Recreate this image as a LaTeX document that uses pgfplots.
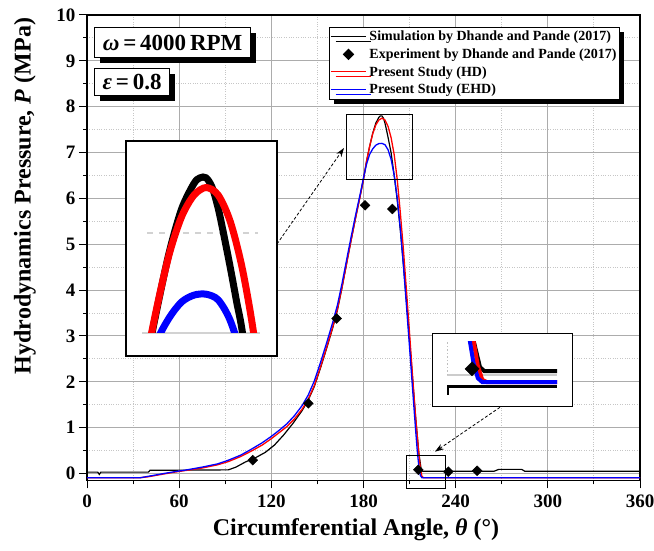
\documentclass[border=0pt]{standalone}
\usepackage{pgfplots}
\pgfplotsset{compat=1.18}
\usepackage{fontspec}
\setmainfont{Liberation Serif}
\usetikzlibrary{shadows,arrows.meta}
\tikzset{myshadow/.style={drop shadow={shadow xshift=5pt, shadow yshift=-5pt, fill=black, opacity=1}}}
\pgfplotsset{
  mylegline/.style={legend image code/.code={\draw[##1] (0pt,0pt) -- (35pt,0pt);}},
  mylegmark/.style={legend image code/.code={\draw[##1] plot[mark=square*, mark options={rotate=45}, mark size=3.5pt] coordinates {(17.5pt,0pt)};}},
}

\pgfplotstableread{
t p
0 0.03
7 0.03
8 -0.02
9 0.03
40 0.03
41 0.07
92 0.08
97 0.14
103 0.25
110 0.35
116 0.46
122 0.62
128 0.84
134 1.09
140 1.37
144 1.60
148 1.90
152 2.30
156 2.73
160 3.18
163 3.56
166 4.05
169 4.58
172 5.10
175 5.60
178 6.08
180 6.42
182 6.81
184 7.13
186 7.42
188 7.64
190 7.77
191 7.80
192 7.80
193 7.75
194 7.64
195 7.49
196 7.33
197 7.16
198 6.99
200 6.50
202 5.95
204 5.30
206 4.55
208 3.75
210 2.90
212 2.05
214 1.20
216 0.45
217.5 0.10
218.5 0.05
265 0.05
268 0.09
283 0.09
285 0.05
360 0.05
}\simdata

\pgfplotstableread{
t p
107.9 0.29
144.1 1.53
162.5 3.38
181.0 5.85
198.8 5.77
215.7 0.08
235.2 0.04
254.0 0.06
}\expdata

\pgfplotstableread{
t p
0 -0.09
35 -0.09
40 -0.07
45 -0.04
50 -0.01
57 0.03
65 0.07
75 0.12
85 0.19
92 0.26
100 0.37
107 0.49
114 0.62
120 0.76
125 0.89
130 1.02
135 1.19
140 1.40
144 1.62
148 1.92
152 2.32
156 2.75
160 3.20
163 3.58
166 4.06
169 4.58
172 5.10
175 5.60
178 6.08
180 6.42
182 6.82
184 7.14
186 7.41
188 7.60
190 7.71
192 7.75
194 7.71
196 7.57
198 7.32
200 6.95
202 6.40
204 5.68
206 4.88
208 3.98
210 3.05
212 2.10
214 1.20
216 0.45
217 0.12
218 -0.06
219 -0.09
360 -0.09
}\hddata

\pgfplotstableread{
t p
0 -0.09
35 -0.09
40 -0.06
45 -0.03
50 0.00
57 0.04
65 0.08
75 0.14
85 0.21
92 0.29
100 0.40
107 0.53
114 0.67
120 0.81
125 0.94
130 1.08
135 1.26
140 1.48
144 1.71
148 2.02
152 2.42
156 2.85
160 3.30
163 3.67
166 4.14
169 4.66
172 5.17
175 5.66
178 6.12
180 6.45
182 6.75
184 6.96
186 7.08
188 7.16
190 7.195
192 7.20
194 7.17
196 7.06
198 6.85
200 6.50
202 6.00
204 5.33
206 4.53
208 3.64
210 2.74
212 1.82
214 0.92
215 0.50
216 0.16
217 -0.04
218 -0.09
360 -0.09
}\ehddata

\begin{document}
\begin{tikzpicture}[x=1pt,y=1pt]
\useasboundingbox (0pt,0pt) rectangle (654pt,550pt);
\begin{axis}[
  at={(87pt,69.6pt)}, anchor=south west, scale only axis,
  width=553pt, height=465.4pt,
  xmin=0, xmax=360, ymin=-0.15, ymax=10,
  xtick={0,60,...,360}, minor xtick={30,90,...,330},
  ytick={0,1,...,10}, minor ytick={0.5,1.5,...,9.5},
  grid=both,
  major grid style={gray!65, line width=1pt},
  minor grid style={gray!45, dotted, line width=1pt},
  tick pos=left, tick align=outside,
  major tick length=8pt, minor tick length=4pt,
  tick style={black, line width=1pt},
  axis line style={line width=1.3pt},
  /pgf/number format/assume math mode=true,
  ticklabel style={font=\fontsize{19}{19}\selectfont\bfseries},
  xticklabel style={yshift=-3pt},
  legend style={at={(rel axis cs:0.4376,0.975)}, anchor=north west,
    draw, line width=1pt, fill=white,
    font=\fontsize{14}{16}\selectfont\bfseries,
    inner xsep=1pt, inner ysep=2pt, row sep=2.4pt,
    cells={anchor=west}, myshadow,
    /tikz/every odd column/.append style={column sep=1pt}},
]
\addlegendimage{black, line width=1pt, mylegline}
\addlegendentry{Simulation by Dhande and Pande (2017)}
\addlegendimage{black, fill=black, mylegmark}
\addlegendentry{Experiment by Dhande and Pande (2017)}
\addlegendimage{red, line width=1pt, mylegline}
\addlegendentry{Present Study (HD)}
\addlegendimage{blue, line width=1pt, mylegline}
\addlegendentry{Present Study (EHD)}

\addplot[forget plot, black, line width=1.2pt] table {\simdata};
\addplot[forget plot, red, line width=1.3pt] table {\hddata};
\addplot[forget plot, blue, line width=1.3pt] table {\ehddata};
\addplot[forget plot, only marks, black, mark=square*, mark options={rotate=45}, mark size=3.5pt] table {\expdata};
\draw[line width=1pt] (axis cs:169.1,6.42) rectangle (axis cs:212.1,7.84);
\end{axis}

% zoom rectangle 2 (extends below axis)
\draw[line width=1pt] (406.7pt,95pt) rectangle (445pt,61.7pt);

% arrows
\draw[densely dashed, line width=0.8pt, -{Stealth[length=9pt,width=6pt]}] (277pt,306pt) -- (344pt,402pt);
\draw[densely dashed, line width=0.8pt, -{Stealth[length=9pt,width=6pt]}] (500pt,142.7pt) -- (435pt,98.3pt);

% inset 1
\filldraw[fill=white, draw=black, line width=1.2pt] (126pt,194pt) rectangle (277pt,409pt);
\draw[gray!35, line width=1.5pt] (142pt,217pt) -- (260pt,217pt);
\draw[gray!35, line width=1.5pt, dash pattern=on 6pt off 6pt] (147pt,317pt) -- (258pt,317pt);
\begin{axis}[at={(126pt,217pt)}, anchor=south west, scale only axis,
  width=151pt, height=192pt, xmin=178.9, xmax=203.6, ymin=7, ymax=7.99, hide axis]
\addplot[black, line width=7pt, smooth] table {\simdata};
\addplot[red, line width=7pt, smooth] table {\hddata};
\addplot[blue, line width=7pt, smooth] table {\ehddata};
\end{axis}

% inset 2
\filldraw[fill=white, draw=black, line width=1.2pt] (432.3pt,143.3pt) rectangle (572.7pt,216.7pt);
\begin{axis}[at={(447pt,155pt)}, anchor=south west, scale only axis,
  width=110pt, height=53.3pt, xmin=210, xmax=235, ymin=-0.256, ymax=0.427, hide axis]
\draw[gray!40, line width=1.5pt] (axis cs:210,0) -- (axis cs:235,0);
\draw[gray!50, dotted, line width=1.5pt] (axis cs:210,0) -- (axis cs:210,0.43);
\draw[black, line width=3.5pt] (axis cs:209.6,-0.15) -- (axis cs:235,-0.15);
\draw[black, line width=3.5pt] (axis cs:210,-0.15) -- (axis cs:210,-0.26);
\addplot[black, line width=4pt] table {\simdata};
\addplot[only marks, black, mark=square*, mark options={rotate=45}, mark size=5pt] table {\expdata};
\addplot[red, line width=4pt] table {\hddata};
\addplot[blue, line width=4pt] table {\ehddata};
\end{axis}

% parameter boxes
\node[draw, line width=1.2pt, fill=white, anchor=north west, minimum width=156pt, minimum height=30pt, inner sep=2pt, myshadow]
  at (94pt,522.7pt) {\fontsize{23}{23}\selectfont\bfseries\textit{ω}\,=\,4000\,RPM};
\node[draw, line width=1.2pt, fill=white, anchor=north west, minimum width=75pt, minimum height=27pt, inner sep=2pt, myshadow]
  at (94pt,481.7pt) {\fontsize{23}{23}\selectfont\bfseries\textit{ε}\,=\,0.8};

% axis labels
\node[font=\fontsize{24}{24}\selectfont\bfseries] at (356pt,20pt) {Circumferential Angle, \textit{θ} (°)};
\node[font=\fontsize{24}{24}\selectfont\bfseries, rotate=90] at (25pt,354pt) {Hydrodynamics Pressure, \textit{P} (MPa)};
\end{tikzpicture}
\end{document}
